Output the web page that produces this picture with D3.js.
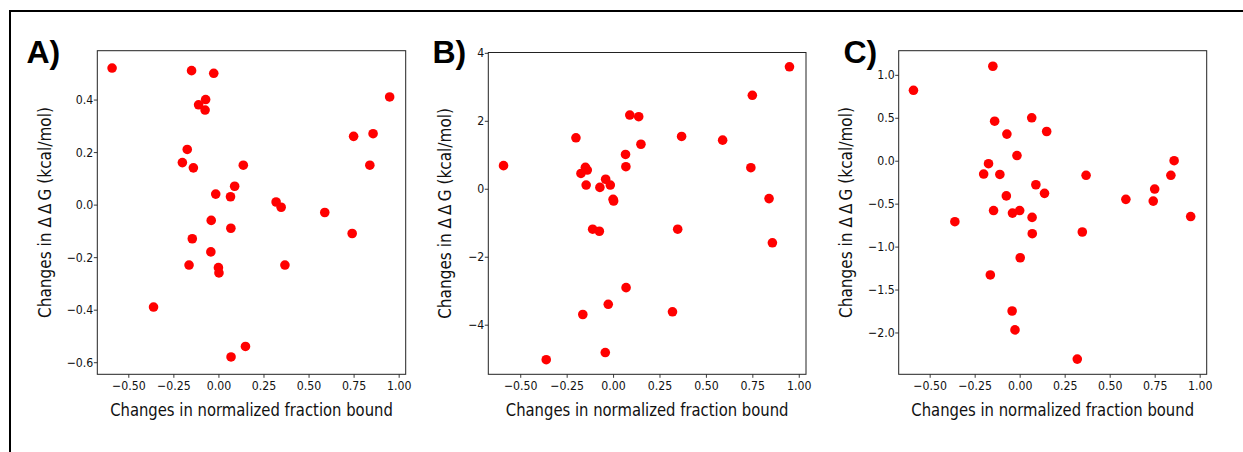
<!DOCTYPE html>
<html>
<head>
<meta charset="utf-8">
<script src="https://cdn.jsdelivr.net/npm/d3@7"></script>
<style>
  body { margin: 0; background: #fff; }
  svg { display: block; }
  text { font-family: "DejaVu Sans", sans-serif; }
</style>
</head>
<body>
<svg id="chart" width="1243" height="452"></svg>
<script>
// x: changes in normalized fraction bound (same for all three panels)
const fractionBound = [-0.59, -0.36, -0.20, -0.173, -0.163, -0.149, -0.145, -0.139,
                       -0.11, -0.071, -0.074, -0.040, -0.042, -0.026, -0.015, 0.0,
                       0.003, 0.067, 0.069, 0.070, 0.090, 0.138, 0.150, 0.320,
                       0.348, 0.369, 0.590, 0.750, 0.742, 0.840, 0.858, 0.950];

// y: changes in ddG (kcal/mol), one array per panel
const ddgA = [0.52, -0.39, 0.16, 0.21, -0.23, 0.51, -0.13, 0.14,
              0.38, 0.40, 0.36, -0.06, -0.18, 0.50, 0.04, -0.24,
              -0.26, 0.03, -0.09, -0.58, 0.07, 0.15, -0.54, 0.01,
              -0.01, -0.23, -0.03, 0.26, -0.11, 0.15, 0.27, 0.41];
const ddgB = [0.68, -5.03, 1.50, 0.45, -3.70, 0.63, 0.11, 0.55,
              -1.19, 0.04, -1.25, 0.28, -4.82, -3.40, 0.11, -0.31,
              -0.36, 1.01, 0.65, -2.91, 2.17, 2.12, 1.31, -3.62,
              -1.19, 1.54, 1.43, 2.75, 0.62, -0.29, -1.59, 3.59];
const ddgC = [0.82, -0.71, -0.155, -0.035, -1.33, 1.10, -0.58, 0.46,
              -0.16, 0.31, -0.41, -0.61, -1.75, -1.97, 0.06, -0.58,
              -1.13, 0.50, -0.66, -0.85, -0.28, -0.38, 0.34, -2.31,
              -0.83, -0.17, -0.45, -0.33, -0.47, -0.17, 0.00, -0.65];

const xTicks = [-0.5, -0.25, 0, 0.25, 0.5, 0.75, 1.0];
const yTicksA = [-0.6, -0.4, -0.2, 0.0, 0.2, 0.4];
const yTicksB = [-4, -2, 0, 2, 4];
const yTicksC = [-2.0, -1.5, -1.0, -0.5, 0.0, 0.5, 1.0];
const panelLetters = ["A)", "B)", "C)"];

const xLabel = "Changes in normalized fraction bound";
const yLabel = "Changes in \u0394\u2009\u0394\u2009G (kcal/mol)";

const svg = d3.select("#chart");

// outer frame (right and bottom edges fall outside the picture)
svg.append("rect")
   .attr("x", 10).attr("y", 11)
   .attr("width", 1300).attr("height", 500)
   .attr("fill", "none").attr("stroke", "#000").attr("stroke-width", 2);

const xDomain = [-0.672, 1.039];

const panels = [
  {letter: panelLetters[0], values: ddgA, ticks: yTicksA, fmt: ".1f", yDomain: [-0.646, 0.586],
   box: {left: 97.3, right: 405.7, top: 50.7, bottom: 374.3}, letterX: 26.5, yLabelX: 50.8},
  {letter: panelLetters[1], values: ddgB, ticks: yTicksB, fmt: "d", yDomain: [-5.46, 4.01],
   box: {left: 488.3, right: 806, top: 52.5, bottom: 374.3}, letterX: 432.5, yLabelX: 451.2},
  {letter: panelLetters[2], values: ddgC, ticks: yTicksC, fmt: ".1f", yDomain: [-2.487, 1.281],
   box: {left: 898.7, right: 1206.7, top: 50.7, bottom: 374.3}, letterX: 843.5, yLabelX: 851.8}
];

// squeeze a label to a given length along its own direction
function squeeze(sel, len) {
  const w = sel.node().getComputedTextLength();
  return w > 0 ? len / w : 1;
}

panels.forEach(p => {
  const b = p.box;
  const x = d3.scaleLinear().domain(xDomain).range([b.left, b.right]);
  const y = d3.scaleLinear().domain(p.yDomain).range([b.bottom, b.top]);
  const g = svg.append("g");

  // axes
  const xAxis = g.append("g")
     .attr("transform", `translate(0,${b.bottom})`)
     .call(d3.axisBottom(x).tickValues(xTicks).tickFormat(d3.format(".2f")).tickSize(3.5).tickPadding(3.5));
  const yAxis = g.append("g")
     .attr("transform", `translate(${b.left},0)`)
     .call(d3.axisLeft(y).tickValues(p.ticks).tickFormat(d3.format(p.fmt)).tickSize(3.5).tickPadding(1));

  [xAxis, yAxis].forEach(a => {
    a.select(".domain").remove();
    a.attr("font-family", null).attr("font-size", null);
    a.selectAll(".tick line").attr("stroke", "#222").attr("stroke-width", 0.9);
    a.selectAll(".tick text")
     .attr("fill", "#111")
     .style("font-size", "12.5px")
     .attr("transform", "scale(0.88,1)");
  });

  // frame
  g.append("rect")
   .attr("x", b.left).attr("y", b.top)
   .attr("width", b.right - b.left).attr("height", b.bottom - b.top)
   .attr("fill", "none").attr("stroke", "#222").attr("stroke-width", 1);

  // points
  g.selectAll("circle")
   .data(fractionBound.map((v, i) => ({x: v, y: p.values[i]})))
   .enter()
   .append("circle")
   .attr("cx", d => x(d.x))
   .attr("cy", d => y(d.y))
   .attr("r", 4.8)
   .attr("fill", "#ff0000");

  // axis labels
  const xl = g.append("text")
   .attr("text-anchor", "middle")
   .style("font-size", "18.5px")
   .attr("fill", "#111")
   .text(xLabel);
  xl.attr("transform", `translate(${(b.left + b.right) / 2},415.5) scale(${squeeze(xl, 283)},1)`);

  const yl = g.append("text")
   .attr("text-anchor", "middle")
   .style("font-size", "18.5px")
   .attr("fill", "#111")
   .text(yLabel);
  yl.attr("transform", `translate(${p.yLabelX},${(b.top + b.bottom) / 2}) rotate(-90) scale(${squeeze(yl, 211)},1)`);

  // panel letter
  g.append("text")
   .attr("x", p.letterX)
   .attr("y", 63.3)
   .style("font-family", "'Liberation Sans', Arial, sans-serif")
   .style("font-weight", "bold")
   .style("font-size", "32px")
   .attr("fill", "#000")
   .text(p.letter);
});
</script>
</body>
</html>
